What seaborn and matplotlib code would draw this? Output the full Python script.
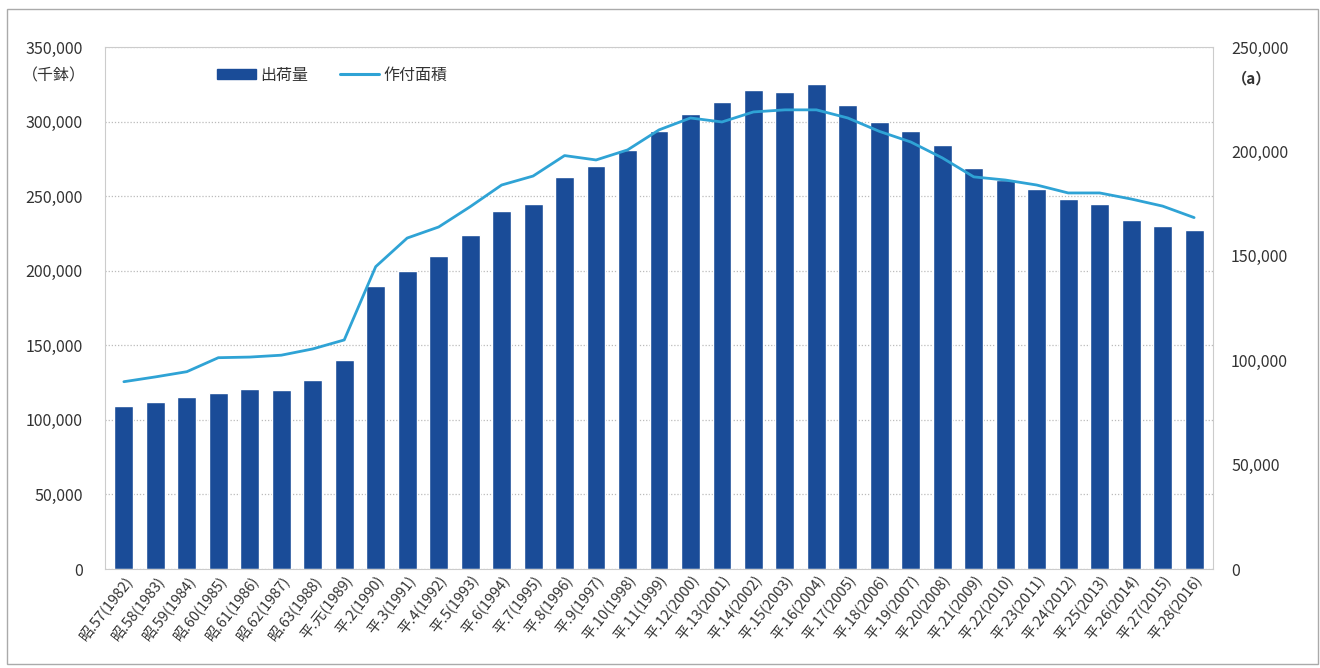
import numpy as np
import pandas as pd
import matplotlib
matplotlib.use("Agg")
import matplotlib.pyplot as plt
from matplotlib.patches import Rectangle
from matplotlib.lines import Line2D
from matplotlib.ticker import FuncFormatter, MultipleLocator
import seaborn as sns

labels = ["昭.57(1982)", "昭.58(1983)", "昭.59(1984)", "昭.60(1985)", "昭.61(1986)",
          "昭.62(1987)", "昭.63(1988)", "平.元(1989)", "平.2(1990)", "平.3(1991)",
          "平.4(1992)", "平.5(1993)", "平.6(1994)", "平.7(1995)", "平.8(1996)",
          "平.9(1997)", "平.10(1998)", "平.11(1999)", "平.12(2000)", "平.13(2001)",
          "平.14(2002)", "平.15(2003)", "平.16(2004)", "平.17(2005)", "平.18(2006)",
          "平.19(2007)", "平.20(2008)", "平.21(2009)", "平.22(2010)", "平.23(2011)",
          "平.24(2012)", "平.25(2013)", "平.26(2014)", "平.27(2015)", "平.28(2016)"]

shipments = [109000, 112000, 115000, 118000, 121000, 120000, 127000, 140000,
             190000, 200000, 210000, 224000, 240000, 245000, 263000, 270000,
             281000, 294000, 305000, 313000, 321000, 320000, 325000, 311000,
             300000, 294000, 284000, 269000, 261000, 255000, 248000, 245000,
             234000, 230000, 227000]

area = [89700, 92000, 94500, 101200, 101500, 102400, 105400, 109700,
        144800, 158500, 163800, 173500, 183900, 188200, 198000, 195900,
        200700, 210300, 216000, 214100, 218900, 219900, 219900, 216000,
        209600, 204500, 196900, 187800, 186300, 183900, 180100, 180100,
        177200, 173800, 168300]

bar_name = "出荷量"
line_name = "作付面積"
left_unit = "（千鉢）"
right_unit = "（a）"

sns.set_theme(style="white")
plt.rcParams['font.family'] = ['Noto Sans CJK JP', 'DejaVu Sans']

df = pd.DataFrame({"label": labels, "shipments": shipments, "area": area})
df["pos"] = np.arange(len(df))

bar_color = "#1A4C98"
line_color = "#2FA3D5"
text_color = "#333333"

fig = plt.figure(figsize=(13.2, 6.68), dpi=100)
ax = fig.add_axes([105 / 1320, 1 - 569 / 668, (1213 - 105) / 1320, (569 - 47) / 668])

sns.barplot(data=df, x="label", y="shipments", color=bar_color, width=0.6,
            saturation=1, ax=ax, zorder=2)
ax.set_ylim(0, 350000)
ax.yaxis.set_major_locator(MultipleLocator(50000))
ax.yaxis.set_major_formatter(FuncFormatter(lambda v, p: f"{int(v):,}"))
ax.grid(axis="y", color="#bbbbbb", linestyle=(0, (1, 1.5)), linewidth=0.9, zorder=0)
ax.set_axisbelow(True)
ax.set_xlabel("")
ax.set_ylabel("")
for s in ax.spines.values():
    s.set_color("#cccccc")
    s.set_linewidth(0.8)
ax.tick_params(axis="y", labelsize=11.5, colors=text_color, length=0, pad=16)
ax.tick_params(axis="x", labelsize=10.5, colors=text_color, length=0, pad=3)
ax.set_xticks(df["pos"])
ax.set_xticklabels(labels, rotation=52, ha="right", rotation_mode="anchor")
ax.set_xlim(-0.6, len(df) - 0.4)

ax2 = ax.twinx()
sns.lineplot(data=df, x="pos", y="area", color=line_color, linewidth=2.0, ax=ax2,
             zorder=3)
ax2.set_ylim(0, 250000)
ax2.yaxis.set_major_locator(MultipleLocator(50000))
ax2.yaxis.set_major_formatter(FuncFormatter(lambda v, p: f"{int(v):,}"))
ax2.set_ylabel("")
ax2.set_xlabel("")
ax2.grid(False)
for s in ax2.spines.values():
    s.set_visible(False)
ax2.tick_params(axis="y", labelsize=11.5, colors=text_color, length=0, pad=13)
ax2.set_xlim(-0.6, len(df) - 0.4)

fig.text(86 / 1320, 1 - 76 / 668, left_unit, ha="right", va="center", fontsize=11.5,
         color=text_color)
fig.text(1252 / 1320, 1 - 78 / 668, right_unit, ha="center", va="center", fontsize=11,
         color=text_color, fontweight="bold")

handles = [Rectangle((0, 0), 1, 1, color=bar_color),
           Line2D([0], [0], color=line_color, linewidth=2.2)]
ax.legend(handles, [bar_name, line_name], loc="center left",
          bbox_to_anchor=(98 / 1108, 1 - 28 / 522), ncol=2, frameon=False,
          fontsize=11.5, handlelength=2.4, handleheight=0.6, columnspacing=2.0,
          handletextpad=0.3, labelcolor=text_color)

fig.patches.append(Rectangle((7 / 1320, 4 / 668), 1311 / 1320, 655 / 668,
                             transform=fig.transFigure, fill=False,
                             edgecolor="#aaaaaa", linewidth=1))

fig.savefig("out.png", dpi=100, facecolor="white")
